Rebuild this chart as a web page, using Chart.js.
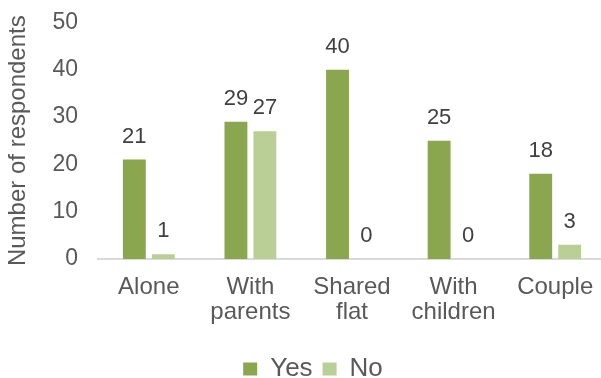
<!DOCTYPE html>
<html lang="en">
<head>
  <meta charset="UTF-8" />
  <title>Respondents by living situation</title>
  <script src="https://cdn.jsdelivr.net/npm/chart.js"></script>
  <style>
    html, body {
      margin: 0;
      padding: 0;
      background: #fff;
      overflow: hidden;
    }
    .chart-box {
      width: 606px;
      height: 378px;
    }
  </style>
</head>
<body>

<div class="chart-box">
  <canvas id="chart"></canvas>
</div>

<script>
  // data
  const categories = [['Alone'], ['With', 'parents'], ['Shared', 'flat'], ['With', 'children'], ['Couple']];
  const yesValues = [21, 29, 40, 25, 18];
  const noValues = [1, 27, 0, 0, 3];
  const yTicks = [0, 10, 20, 30, 40, 50];

  const FONT = "'Liberation Sans', Arial, sans-serif";

  // simple value labels above each bar
  const valueLabels = {
    id: 'valueLabels',
    afterDatasetsDraw(chart) {
      const ctx = chart.ctx;
      ctx.save();
      ctx.font = '22px ' + FONT;
      ctx.fillStyle = '#404040';
      ctx.textAlign = 'center';
      ctx.textBaseline = 'alphabetic';
      chart.data.datasets.forEach((ds, i) => {
        chart.getDatasetMeta(i).data.forEach((bar, j) => {
          ctx.fillText(ds.data[j], bar.x, bar.y - 17);
        });
      });
      ctx.restore();
    }
  };

  // legend sits a little right of centre in the original
  const nudgeLegend = {
    id: 'nudgeLegend',
    afterLayout(chart) {
      chart.legend.left += 8;
      chart.legend.right += 8;
    }
  };

  new Chart(document.getElementById('chart'), {
    type: 'bar',
    data: {
      labels: categories,
      datasets: [
        { label: 'Yes', data: yesValues, backgroundColor: '#8AA64F', categoryPercentage: 0.57, barPercentage: 0.79 },
        { label: 'No', data: noValues, backgroundColor: '#B9CF95', categoryPercentage: 0.57, barPercentage: 0.79 }
      ]
    },
    options: {
      responsive: true,
      maintainAspectRatio: false,
      animation: false,
      layout: { padding: { top: 0, left: 4, right: 0, bottom: -14 } },
      plugins: {
        tooltip: { enabled: false },
        legend: {
          position: 'bottom',
          labels: {
            font: { family: FONT, size: 26 },
            color: '#595959',
            boxWidth: 14,
            boxHeight: 13,
            padding: 10
          }
        }
      },
      scales: {
        x: {
          afterFit: (scale) => { scale.height = 87; },
          grid: { display: false },
          border: { display: true, color: '#D9D9D9', width: 2 },
          ticks: {
            font: { family: FONT, size: 24, lineHeight: 1.05 },
            color: '#595959',
            padding: 8,
            maxRotation: 0
          }
        },
        y: {
          min: 0,
          max: 50,
          afterBuildTicks: (scale) => { scale.ticks = yTicks.map(v => ({ value: v })); },
          afterFit: (scale) => { scale.width = 94; },
          grid: { display: false },
          border: { display: false },
          ticks: {
            font: { family: FONT, size: 23, lineHeight: 0.9 },
            color: '#595959',
            padding: 12
          },
          title: {
            display: true,
            text: 'Number of respondents',
            font: { family: FONT, size: 24 },
            color: '#595959',
            padding: 0
          }
        }
      }
    },
    plugins: [valueLabels, nudgeLegend]
  });
</script>

</body>
</html>
